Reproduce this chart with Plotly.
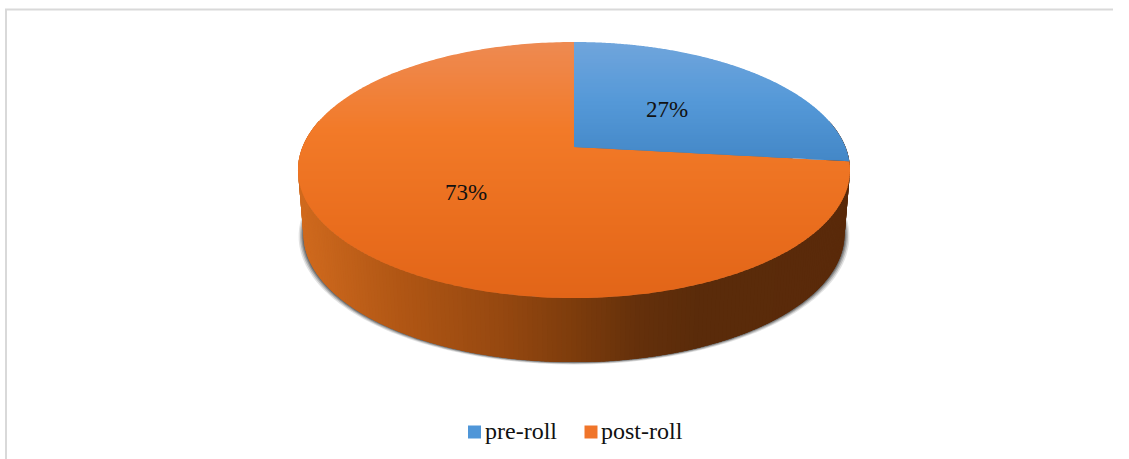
import numpy as np
import plotly.graph_objects as go

# ---- data ----
categories = ["pre-roll", "post-roll"]
values = [26.8, 73.2]
labels = ["27%", "73%"]

# ---- view geometry (canvas units) ----
W, H = 1129, 459
AX, AY = 574, 147      # projected disc centre
A, B, P = 271.5, 123.9, 0.18   # perspective disc scales
DEPTH = 64
FLOOR_SCALE = 0.98

BLUE_STOPS = [(42, (112, 165, 220)), (100, (85, 153, 216)), (165, (66, 134, 198))]
ORANGE_STOPS = [(42, (238, 138, 82)), (130, (242, 122, 40)), (220, (234, 110, 30)), (298, (226, 101, 24))]
WALL_STOPS = [(298, (208, 106, 30)), (400, (176, 86, 20)), (500, (150, 72, 16)),
              (574, (125, 60, 12)), (640, (100, 48, 11)), (700, (90, 43, 10)), (850, (90, 42, 10))]
BORDER = "#d9d9d9"
INK = "#111111"
FONT = "Liberation Serif"


def project(theta, radius=1.0, scale=1.0, drop=0.0):
    """theta clockwise from 12 o'clock, on the perspective-viewed disc."""
    u, v = radius * np.sin(theta), radius * np.cos(theta)
    w = 1 + P * v
    return AX + scale * A * u / w, AY - B * v / w + drop


def colour(stops, t):
    pos = [s[0] for s in stops]
    rgb = [np.interp(t, pos, [s[1][i] for s in stops]) for i in range(3)]
    return "rgb(%d,%d,%d)" % tuple(int(round(c)) for c in rgb)


def clip_band(px, py, y0, y1):
    def clip(pts, inside, cross):
        out = []
        for i in range(len(pts)):
            a, b = pts[i - 1], pts[i]
            if inside(b):
                if not inside(a):
                    out.append(cross(a, b))
                out.append(b)
            elif inside(a):
                out.append(cross(a, b))
        return out

    def at(y):
        return lambda a, b: (a[0] + (b[0] - a[0]) * (y - a[1]) / (b[1] - a[1]), y)

    pts = list(zip(px, py))
    pts = clip(pts, lambda p: p[1] >= y0, at(y0))
    if pts:
        pts = clip(pts, lambda p: p[1] <= y1, at(y1))
    return pts


fig = go.Figure()


def poly(xs, ys, fill):
    fig.add_trace(go.Scatter(
        x=list(xs) + [xs[0]], y=list(ys) + [ys[0]], mode="lines", fill="toself",
        fillcolor=fill, line=dict(color="rgba(0,0,0,0)", width=0, simplify=False),
        hoverinfo="skip", showlegend=False))


# slice angles from the values
fractions = np.array(values, dtype=float) / sum(values)
edges = np.concatenate([[0], np.cumsum(fractions)]) * 2 * np.pi

# soft shadow behind the wall
ring = np.linspace(0, 2 * np.pi, 361)
for grow, alpha in [(1.018, .14), (1.013, .22), (1.008, .30), (1.004, .38)]:
    sx, sy = project(ring, scale=FLOOR_SCALE * grow, drop=DEPTH + (grow - 1) * 130)
    poly(list(sx), list(sy), "rgba(50,50,50,%.2f)" % alpha)

# side wall: only the front half of the rim is visible
wall_t = np.linspace(np.pi * 0.5 - 0.22, np.pi * 1.5 + 0.22, 240)
for t0, t1 in zip(wall_t[:-1], wall_t[1:]):
    # every segment runs well past the next boundary to hide seams
    tt = np.linspace(t0, min(t1 + 0.025, wall_t[-1]), 4)
    tx, ty = project(tt)
    bx, by = project(tt[::-1], scale=FLOOR_SCALE, drop=DEPTH)
    mid = project((t0 + t1) / 2)[0]
    poly(list(tx) + list(bx), list(ty) + list(by), colour(WALL_STOPS, mid))

# top surface: each slice painted as thin gradient bands
for idx, stops in [(1, ORANGE_STOPS), (0, BLUE_STOPS)]:
    tt = np.linspace(edges[idx], edges[idx + 1], 300)
    rx, ry = project(tt)
    px = [AX] + list(rx)
    py = [AY] + list(ry)
    ytop, ybot = min(py), max(py)
    for y0 in np.arange(np.floor(ytop), ybot, 2.0):
        pts = clip_band(px, py, y0, y0 + 2.6)
        if len(pts) >= 3:
            c = colour(stops, y0 + 1)
            poly([p[0] for p in pts], [p[1] for p in pts], c)

# percentage labels
fig.add_trace(go.Scatter(
    x=[667, 466], y=[111, 194], mode="text", text=labels,
    textfont=dict(family=FONT, size=23, color=INK),
    textposition="middle center", hoverinfo="skip", showlegend=False))

# legend keys
legend_colours = ["#4f96d8", "#f0752a"]
fig.add_trace(go.Scatter(
    x=[474.5, 591], y=[432, 432], mode="markers",
    marker=dict(symbol="square", size=13, color=legend_colours, line=dict(width=0)),
    hoverinfo="skip", showlegend=False))
fig.add_trace(go.Scatter(
    x=[485, 601], y=[432.5, 432.5], mode="text", text=categories,
    textfont=dict(family=FONT, size=24, color=INK),
    textposition="middle right", hoverinfo="skip", showlegend=False))

# outer frame
fig.add_trace(go.Scatter(
    x=[6, 6, 1113], y=[459, 9.5, 9.5], mode="lines",
    line=dict(color=BORDER, width=2), hoverinfo="skip", showlegend=False))

fig.update_layout(
    width=W, height=H, margin=dict(l=0, r=0, t=0, b=0),
    paper_bgcolor="white", plot_bgcolor="white", showlegend=False,
    xaxis=dict(range=[0, W], visible=False, fixedrange=True),
    yaxis=dict(range=[H, 0], visible=False, fixedrange=True),
)
fig.write_html("out.html", config={"displayModeBar": False},
               post_script="document.body.style.margin='0';document.body.style.overflow='hidden';")
